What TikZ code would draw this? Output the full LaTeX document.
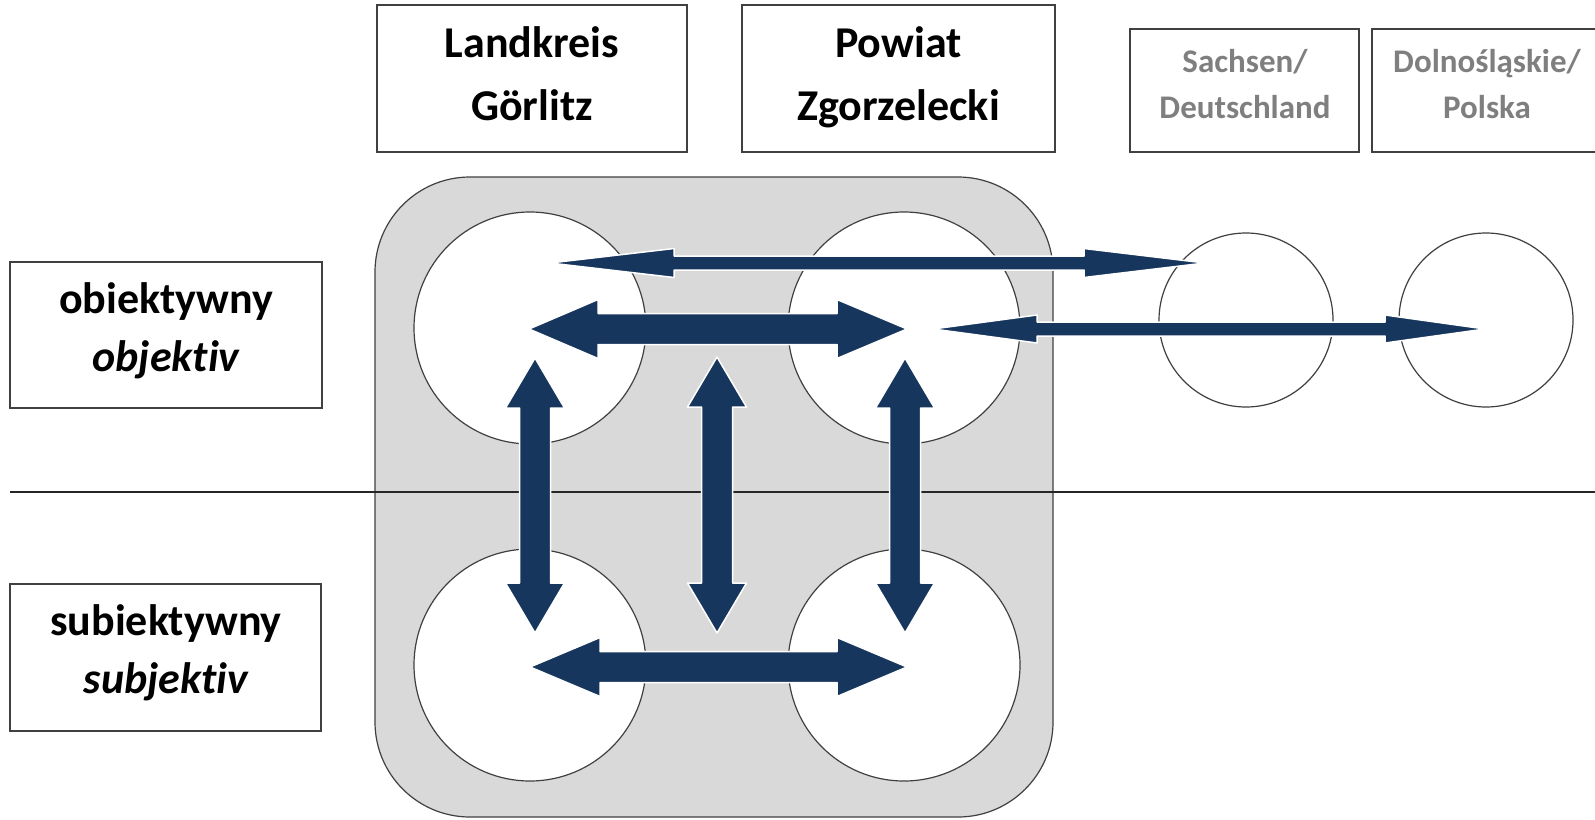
\documentclass[tikz,border=0pt]{standalone}
\usepackage{fontspec}
\setmainfont{Carlito}[Ligatures=NoCommon]
\usetikzlibrary{calc}
\definecolor{navy}{HTML}{17365D}
\definecolor{panel}{HTML}{D9D9D9}
\definecolor{edge}{HTML}{404040}
\definecolor{graytext}{HTML}{7F7F7F}
% horizontal block arrow with two heads: from left tip #1 to right tip #2
\newcommand\dblH[6]{%
  \filldraw[blockarrow] (#1) -- ([shift={(#5,-#4)}]#1) -- ([shift={(#5,-#3)}]#1)
    -- ([shift={(-#6,-#3)}]#2) -- ([shift={(-#6,-#4)}]#2) -- (#2)
    -- ([shift={(-#6,#4)}]#2) -- ([shift={(-#6,#3)}]#2)
    -- ([shift={(#5,#3)}]#1) -- ([shift={(#5,#4)}]#1) -- cycle;}
% vertical block arrow with two heads: from top tip #1 to bottom tip #2
\newcommand\dblV[5]{%
  \filldraw[blockarrow] (#1) -- ([shift={(-#4,#5)}]#1) -- ([shift={(-#3,#5)}]#1)
    -- ([shift={(-#3,-#5)}]#2) -- ([shift={(-#4,-#5)}]#2) -- (#2)
    -- ([shift={(#4,-#5)}]#2) -- ([shift={(#3,-#5)}]#2)
    -- ([shift={(#3,#5)}]#1) -- ([shift={(#4,#5)}]#1) -- cycle;}
\begin{document}
\begin{tikzpicture}[x=1pt,y=-1pt,
  box/.style={rectangle, draw=edge, line width=1.5pt, fill=white, inner sep=0pt},
  bigtxt/.style={inner sep=0pt, anchor=base, font=\fontsize{44}{53}\selectfont\bfseries},
  bigital/.style={inner sep=0pt, anchor=base, font=\fontsize{44}{53}\selectfont\bfseries\itshape},
  smalltxt/.style={inner sep=0pt, anchor=base, text=graytext, font=\fontsize{33}{40}\selectfont\bfseries},
  circ/.style={circle, draw=edge, fill=white, line width=1.2pt, inner sep=0pt},
  blockarrow/.style={fill=navy, draw=white, line width=1.5pt, line join=round}]
\useasboundingbox (0,0) rectangle (1595,819);
\fill[white] (0,0) rectangle (1595,819);

% header boxes
\node[box, minimum width=310pt, minimum height=147pt] (bLand) at (532,78.5) {};
\node[bigtxt] (tLand1) at (532,57) {Landkreis};
\node[bigtxt] (tLand2) at (532,120) {Görlitz};
\node[box, minimum width=313pt, minimum height=147pt] (bPow) at (898.5,78.5) {};
\node[bigtxt] (tPow1) at (898.5,57) {Powiat};
\node[bigtxt] (tPow2) at (898.5,120) {Zgorzelecki};
\node[box, minimum width=229pt, minimum height=123pt] (bSax) at (1244.5,90.5) {};
\node[smalltxt] (tSax1) at (1245,72) {Sachsen/};
\node[smalltxt] (tSax2) at (1245,118) {Deutschland};
\node[box, minimum width=228pt, minimum height=123pt] (bDol) at (1486,90.5) {};
\node[smalltxt] (tDol1) at (1487,72) {Dolnośląskie/};
\node[smalltxt] (tDol2) at (1487,118) {Polska};

% row boxes
\node[box, minimum width=312pt, minimum height=146pt] (bObj) at (166,335) {};
\node[bigtxt] (tObj1) at (166,313) {obiektywny};
\node[bigital] (tObj2) at (166,371) {objektiv};
\node[box, minimum width=311pt, minimum height=147pt] (bSub) at (165.5,657.5) {};
\node[bigtxt] (tSub1) at (166,635) {subiektywny};
\node[bigital] (tSub2) at (166,693) {subjektiv};

% grey panel and circles
\node[rectangle, draw=edge, fill=panel, line width=1.2pt, rounded corners=95pt,
      minimum width=678pt, minimum height=640pt, inner sep=0pt] (grp) at (714,497) {};
\node[circ, minimum size=232pt] (TL) at (530,328) {};
\node[circ, minimum size=232pt] (TR) at (904,328) {};
\node[circ, minimum size=232pt] (BL) at (530,665) {};
\node[circ, minimum size=232pt] (BR) at (904,665) {};
\node[circ, minimum size=174pt] (SX) at (1246,320) {};
\node[circ, minimum size=174pt] (PL) at (1486,320) {};

% separating line
\coordinate (lineL) at (10,492);
\coordinate (lineR) at (1600,492);
\draw[line width=1.5pt, color=black!85] (lineL) -- (lineR);

% arrow end points
\coordinate (hA) at (529,329);
\coordinate (hB) at (907,329);
\coordinate (hC) at (530,667);
\coordinate (hD) at (907,667);
\coordinate (vL1) at (535,358);
\coordinate (vL2) at (535,633);
\coordinate (vM1) at (717,357);
\coordinate (vM2) at (717,633);
\coordinate (vR1) at (905,358);
\coordinate (vR2) at (905,633);
\coordinate (tA) at (550,263);
\coordinate (tB) at (1205,263);
\coordinate (tC) at (933,329);
\coordinate (tD) at (1485,329);

% arrows
\dblH{hA}{hB}{15.5}{29.5}{69}{70}
\dblH{hC}{hD}{15.5}{29.5}{70}{70}
\dblV{vL1}{vL2}{15.5}{29.5}{50}
\dblV{vM1}{vM2}{15.5}{29.5}{50}
\dblV{vR1}{vR2}{15.5}{29.5}{50}
\dblH{tA}{tB}{7}{14.5}{124}{121}
\dblH{tC}{tD}{7}{14}{104}{100}
\end{tikzpicture}
\end{document}
